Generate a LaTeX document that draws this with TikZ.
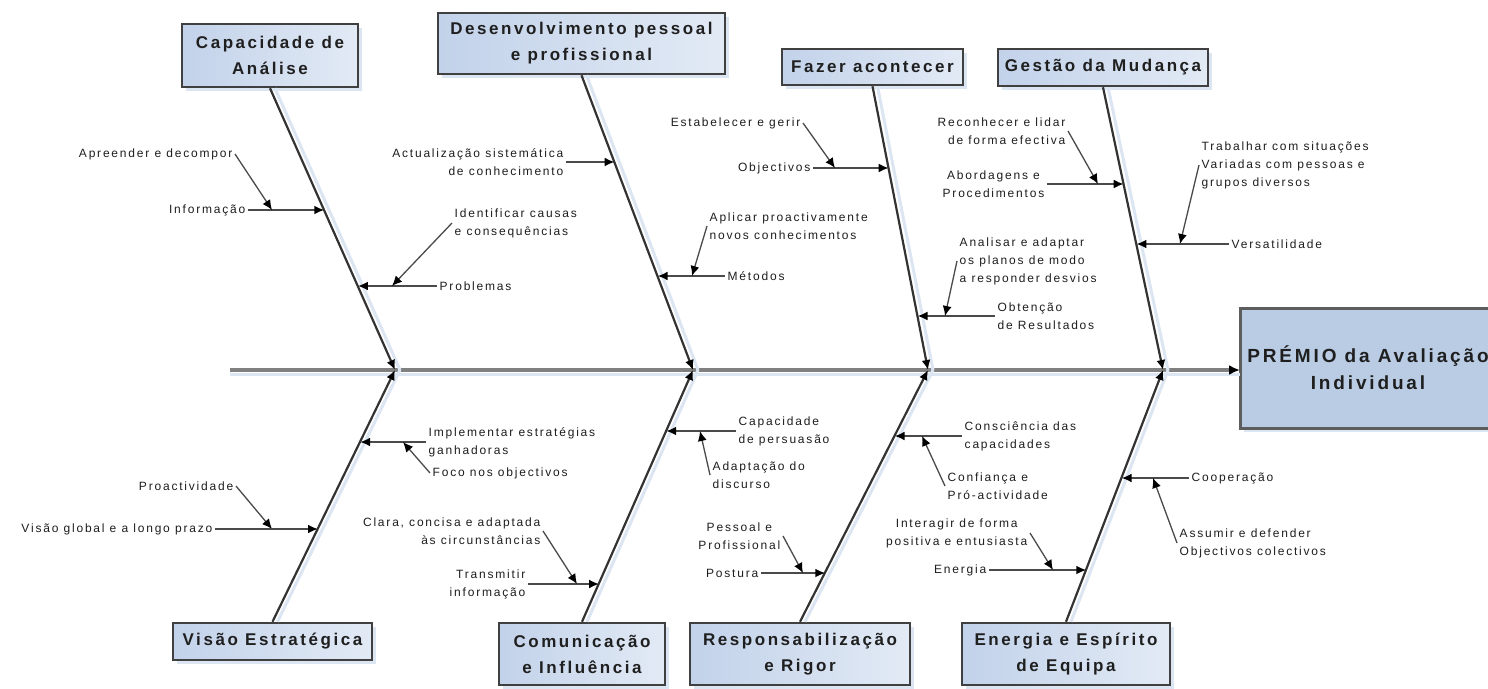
\documentclass[tikz,border=0pt]{standalone}
\usepackage{fontspec}
\setmainfont{Liberation Sans}
\newfontfamily\labfont[LetterSpace=15]{Liberation Sans}
\usetikzlibrary{arrows.meta,shadows}
\definecolor{boxA}{HTML}{C2D2EA}
\definecolor{boxB}{HTML}{E2EAF5}
\definecolor{boxline}{HTML}{404040}
\definecolor{effcol}{HTML}{B9CCE4}
\definecolor{bonecol}{HTML}{333333}
\definecolor{subcol}{HTML}{4A4A4A}
\definecolor{spinecol}{HTML}{808080}
\definecolor{shadecol}{HTML}{DCE5F2}
\definecolor{labtext}{HTML}{1E1E1E}
\begin{document}
\begin{tikzpicture}[x=1pt,y=-1pt,
  tipA/.tip={Latex[length=10pt,width=9pt,color=black]},
  head/.style={shade, left color=boxA, right color=boxB, draw=boxline, line width=2.5pt,
    font={\labfont\bfseries\fontsize{17}{26}\selectfont}, text=black!88, align=center, inner sep=0pt,
    drop shadow={shadow xshift=4pt, shadow yshift=-4pt, fill=shadecol, opacity=1}},
  effbox/.style={fill=effcol, draw=boxline!85, line width=3pt,
    font={\labfont\bfseries\fontsize{19}{27}\selectfont}, text=black!88, align=center, inner sep=0pt,
    drop shadow={shadow xshift=4pt, shadow yshift=-4pt, fill=shadecol, opacity=1}},
  lab/.style={font={\labfont\fontsize{12}{18}\selectfont}, text=labtext, inner sep=2.5pt},
  bone/.style={draw=bonecol, line width=2.2pt, -tipA},
  boneshadow/.style={draw=shadecol, line width=3pt, transform canvas={xshift=5pt}},
  spine/.style={draw=spinecol, line width=4pt, -{Latex[length=11pt,width=10pt,color=black]}},
  sub/.style={draw=subcol, line width=2.6pt, -tipA},
  diag/.style={draw=subcol, line width=1.3pt, -tipA}
]
\useasboundingbox (0,0) rectangle (1488,688);
\fill[white] (0,0) rectangle (1488,688);

% ---------- heads ----------
\node[head, minimum width=176pt, minimum height=63pt] (h1) at (270,55.5) {Capacidade de\\Análise};
\node[head, minimum width=287pt, minimum height=61pt] (h2) at (581.5,43.5) {Desenvolvimento pessoal\\e profissional};
\node[head, minimum width=181pt, minimum height=36pt] (h3) at (872.5,67) {Fazer acontecer};
\node[head, minimum width=210pt, minimum height=37pt] (h4) at (1103,67.5) {Gestão da Mudança};
\node[head, minimum width=199pt, minimum height=37pt] (h5) at (272.5,641.5) {Visão Estratégica};
\node[head, minimum width=166pt, minimum height=62pt] (h6) at (582,654) {Comunicação\\e Influência};
\node[head, minimum width=220pt, minimum height=62pt] (h7) at (800,654) {Responsabilização\\e Rigor};
\node[head, minimum width=208pt, minimum height=62pt] (h8) at (1066,654) {Energia e Espírito\\de Equipa};
\node[effbox, minimum width=256pt, minimum height=120pt] (eff) at (1368,368) {PRÉMIO da Avaliação\\Individual};

% ---------- spine ----------
\coordinate (sp0) at (230,370);
\coordinate (sp1) at (1240,370);
\coordinate (s1) at (395,370);
\coordinate (s2) at (693,370);
\coordinate (s3) at (928,370);
\coordinate (s4) at (1163,370);
\draw[draw=shadecol, line width=3pt, transform canvas={yshift=-4pt}] (sp0) -- (sp1);
\draw[spine] (sp0) -- (sp1);

% ---------- bones ----------
\draw[boneshadow] (h1.south) -- (s1);
\draw[boneshadow] (h2.south) -- (s2);
\draw[boneshadow] (h3.south) -- (s3);
\draw[boneshadow] (h4.south) -- (s4);
\draw[boneshadow] (h5.north) -- (s1);
\draw[boneshadow] (h6.north) -- (s2);
\draw[boneshadow] (h7.north) -- (s3);
\draw[boneshadow] (h8.north) -- (s4);
\draw[bone] (h1.south) -- (s1);
\draw[bone] (h2.south) -- (s2);
\draw[bone] (h3.south) -- (s3);
\draw[bone] (h4.south) -- (s4);
\draw[bone] (h5.north) -- (s1);
\draw[bone] (h6.north) -- (s2);
\draw[bone] (h7.north) -- (s3);
\draw[bone] (h8.north) -- (s4);

% ---------- attachment points on bones ----------
\coordinate (a1a) at (324.3,210);
\coordinate (a1b) at (357.9,286);
\coordinate (a2a) at (614.6,162);
\coordinate (a2b) at (657.6,276);
\coordinate (a3a) at (888.7,168);
\coordinate (a3b) at (917.5,316);
\coordinate (a4a) at (1123.7,184);
\coordinate (a4b) at (1136.4,244);
\coordinate (a5a) at (360.1,442);
\coordinate (a5b) at (318.0,529);
\coordinate (a6a) at (666.2,431);
\coordinate (a6b) at (599.1,584);
\coordinate (a7a) at (894.6,436);
\coordinate (a7b) at (825.3,573);
\coordinate (a8a) at (1121.6,478);
\coordinate (a8b) at (1086.3,570);

% ---------- points on sub-branches ----------
\coordinate (m1a) at (272,210);
\coordinate (m1b) at (392,286);
\coordinate (m2b) at (692,276);
\coordinate (m3a) at (835,168);
\coordinate (m3b) at (945,316);
\coordinate (m4a) at (1098,184);
\coordinate (m4b) at (1180,244);
\coordinate (m5a) at (403,442);
\coordinate (m5b) at (272,529);
\coordinate (m6a) at (700,431);
\coordinate (m6b) at (577,584);
\coordinate (m7a) at (922,436);
\coordinate (m7b) at (803,573);
\coordinate (m8a) at (1153,478);
\coordinate (m8b) at (1053,570);

% ---------- Capacidade de Análise ----------
\node[lab, anchor=east] (l1a) at (248,210) {Informação};
\node[lab, anchor=east] (l1b) at (235,154) {Apreender e decompor};
\node[lab, anchor=west] (l1c) at (437,286) {Problemas};
\node[lab, anchor=west, align=left] (l1d) at (452,223) {Identificar causas\\e consequências};
\draw[sub] (l1a.east) -- (a1a);
\draw[diag] (l1b.east) -- (m1a);
\draw[sub] (l1c.west) -- (a1b);
\draw[diag] (l1d.west) -- (m1b);

% ---------- Desenvolvimento pessoal e profissional ----------
\node[lab, anchor=east, align=right] (l2a) at (566,162) {Actualização sistemática\\de conhecimento};
\node[lab, anchor=west] (l2b) at (725,276) {Métodos};
\node[lab, anchor=west, align=left] (l2c) at (707,226) {Aplicar proactivamente\\novos conhecimentos};
\draw[sub] (l2a.east) -- (a2a);
\draw[sub] (l2b.west) -- (a2b);
\draw[diag] (l2c.west) -- (m2b);

% ---------- Fazer acontecer ----------
\node[lab, anchor=east] (l3a) at (813,168) {Objectivos};
\node[lab, anchor=east] (l3b) at (803,123) {Estabelecer e gerir};
\node[lab, anchor=west, align=left] (l3c) at (995,316) {Obtenção\\de Resultados};
\node[lab, anchor=west, align=left] (l3d) at (957,261) {Analisar e adaptar\\os planos de modo\\a responder desvios};
\draw[sub] (l3a.east) -- (a3a);
\draw[diag] (l3b.east) -- (m3a);
\draw[sub] (l3c.west) -- (a3b);
\draw[diag] (l3d.west) -- (m3b);

% ---------- Gestão da Mudança ----------
\node[lab, anchor=east, align=center] (l4a) at (1047,184) {Abordagens e\\Procedimentos};
\node[lab, anchor=east, align=right] (l4b) at (1068,131) {Reconhecer e lidar\\de forma efectiva};
\node[lab, anchor=west] (l4c) at (1229,244) {Versatilidade};
\node[lab, anchor=west, align=left] (l4d) at (1199,165) {Trabalhar com situações\\Variadas com pessoas e\\grupos diversos};
\draw[sub] (l4a.east) -- (a4a);
\draw[diag] (l4b.east) -- (m4a);
\draw[sub] (l4c.west) -- (a4b);
\draw[diag] (l4d.west) -- (m4b);

% ---------- Visão Estratégica ----------
\node[lab, anchor=west, align=left] (l5a) at (426,442) {Implementar estratégias\\ganhadoras};
\node[lab, anchor=west] (l5b) at (430,473) {Foco nos objectivos};
\node[lab, anchor=east] (l5c) at (236,486) {Proactividade};
\node[lab, anchor=east] (l5d) at (215,529) {Visão global e a longo prazo};
\draw[sub] (l5a.west) -- (a5a);
\draw[diag] (l5b.west) -- (m5a);
\draw[diag] (l5c.east) -- (m5b);
\draw[sub] (l5d.east) -- (a5b);

% ---------- Comunicação e Influência ----------
\node[lab, anchor=west, align=left] (l6a) at (736,431) {Capacidade\\de persuasão};
\node[lab, anchor=west, align=left] (l6b) at (710,475) {Adaptação do\\discurso};
\node[lab, anchor=east, align=right] (l6c) at (528,584) {Transmitir\\informação};
\node[lab, anchor=east, align=right] (l6d) at (543,531) {Clara, concisa e adaptada\\às circunstâncias};
\draw[sub] (l6a.west) -- (a6a);
\draw[diag] (l6b.west) -- (m6a);
\draw[sub] (l6c.east) -- (a6b);
\draw[diag] (l6d.east) -- (m6b);

% ---------- Responsabilização e Rigor ----------
\node[lab, anchor=west, align=left] (l7a) at (962,436) {Consciência das\\capacidades};
\node[lab, anchor=west, align=left] (l7b) at (945,486) {Confiança e\\Pró-actividade};
\node[lab, anchor=east] (l7c) at (761,573) {Postura};
\node[lab, anchor=east, align=center] (l7d) at (783,536) {Pessoal e\\Profissional};
\draw[sub] (l7a.west) -- (a7a);
\draw[diag] (l7b.west) -- (m7a);
\draw[sub] (l7c.east) -- (a7b);
\draw[diag] (l7d.east) -- (m7b);

% ---------- Energia e Espírito de Equipa ----------
\node[lab, anchor=west] (l8a) at (1189,478) {Cooperação};
\node[lab, anchor=west, align=left] (l8b) at (1177,543) {Assumir e defender\\Objectivos colectivos};
\node[lab, anchor=east] (l8c) at (989,570) {Energia};
\node[lab, anchor=east, align=center] (l8d) at (1030,533) {Interagir de forma\\positiva e entusiasta};
\draw[sub] (l8a.west) -- (a8a);
\draw[diag] (l8b.west) -- (m8a);
\draw[sub] (l8c.east) -- (a8b);
\draw[diag] (l8d.east) -- (m8b);
\end{tikzpicture}
\end{document}
